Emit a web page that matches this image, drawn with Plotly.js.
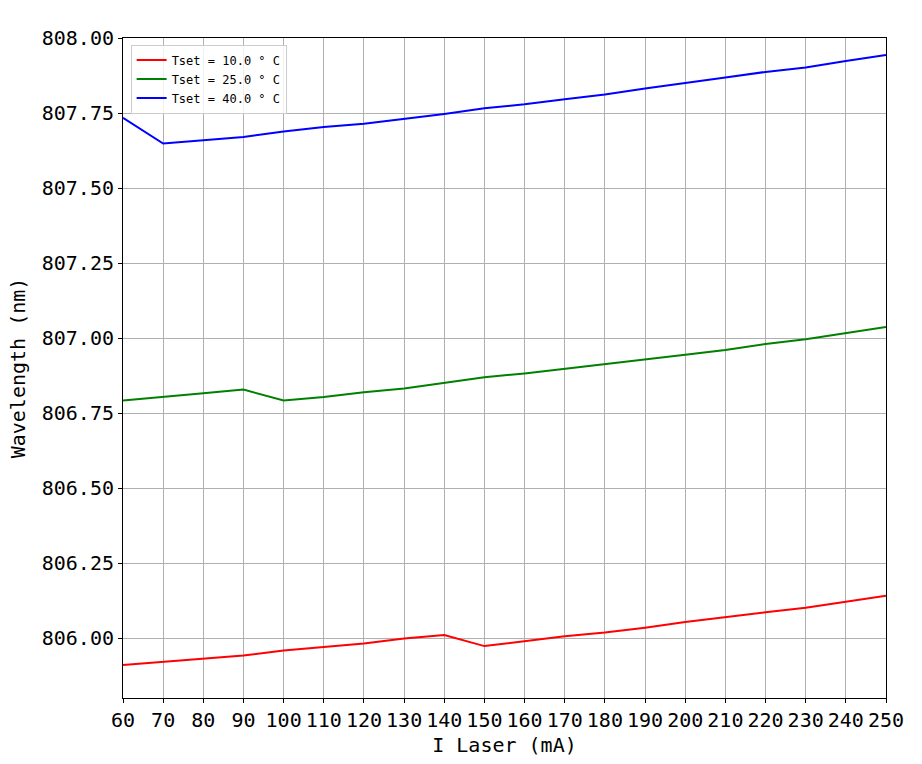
<!DOCTYPE html>
<html>
<head>
<meta charset="utf-8">
<script src="https://cdn.plot.ly/plotly-3.0.1.min.js"></script>
<style>
  body { margin: 0; background: #fff; }
  #chart { width: 922px; height: 764px; }
</style>
</head>
<body>
<div id="chart"></div>
<script>
// laser current (mA)
var current = [60, 70, 80, 90, 100, 110, 120, 130, 140, 150,
               160, 170, 180, 190, 200, 210, 220, 230, 240, 250];

// wavelength (nm) per set temperature
var wl10 = [805.910, 805.921, 805.933, 805.942, 805.958, 805.970, 805.982, 805.998, 806.010, 805.973,
            805.990, 806.006, 806.018, 806.034, 806.053, 806.070, 806.086, 806.101, 806.122, 806.141];
var wl25 = [806.792, 806.803, 806.816, 806.828, 806.792, 806.803, 806.819, 806.832, 806.850, 806.869,
            806.882, 806.897, 806.912, 806.928, 806.944, 806.960, 806.980, 806.996, 807.016, 807.037];
var wl40 = [807.734, 807.648, 807.659, 807.670, 807.688, 807.703, 807.714, 807.730, 807.747, 807.766,
            807.779, 807.796, 807.812, 807.832, 807.849, 807.868, 807.887, 807.902, 807.923, 807.943];

var names = ['Tset = 10.0 ° C', 'Tset = 25.0 ° C', 'Tset = 40.0 ° C'];
var colors = ['#ff0000', '#008000', '#0000ff'];
var series = [wl10, wl25, wl40];

var font = '"DejaVu Sans Mono", "Liberation Mono", monospace';

var data = series.map(function (ys, i) {
    return {
        x: current,
        y: ys,
        type: 'scatter',
        mode: 'lines',
        name: names[i],
        line: { color: colors[i], width: 2 }
    };
});

var axisCommon = {
    showline: true,
    mirror: true,
    linecolor: '#000',
    linewidth: 1,
    ticks: 'outside',
    ticklen: 4,
    tickcolor: '#000',
    showgrid: true,
    gridcolor: '#b0b0b0',
    gridwidth: 1,
    zeroline: false,
    tickfont: { family: font, size: 20, color: '#000' }
};

var layout = {
    width: 922,
    height: 764,
    margin: { l: 123, r: 36, t: 38, b: 66 },
    paper_bgcolor: '#fff',
    plot_bgcolor: '#fff',
    showlegend: true,
    legend: {
        x: 0.01, y: 0.99,
        xanchor: 'left', yanchor: 'top',
        bgcolor: 'rgba(255,255,255,0.8)',
        bordercolor: '#cccccc',
        borderwidth: 1,
        font: { family: font, size: 12, color: '#000' },
        tracegroupgap: 0
    },
    xaxis: Object.assign({}, axisCommon, {
        range: [60, 250],
        tick0: 60,
        dtick: 10,
        tickangle: 0,
        title: { text: 'I Laser (mA)', font: { family: font, size: 20, color: '#000' }, standoff: 6 }
    }),
    yaxis: Object.assign({}, axisCommon, {
        range: [805.8, 808.0],
        tick0: 806,
        dtick: 0.25,
        tickformat: '.2f',
        title: { text: 'Wavelength (nm)', font: { family: font, size: 20, color: '#000' }, standoff: 10 }
    })
};

Plotly.newPlot('chart', data, layout, { displayModeBar: false, staticPlot: true });
</script>
</body>
</html>
